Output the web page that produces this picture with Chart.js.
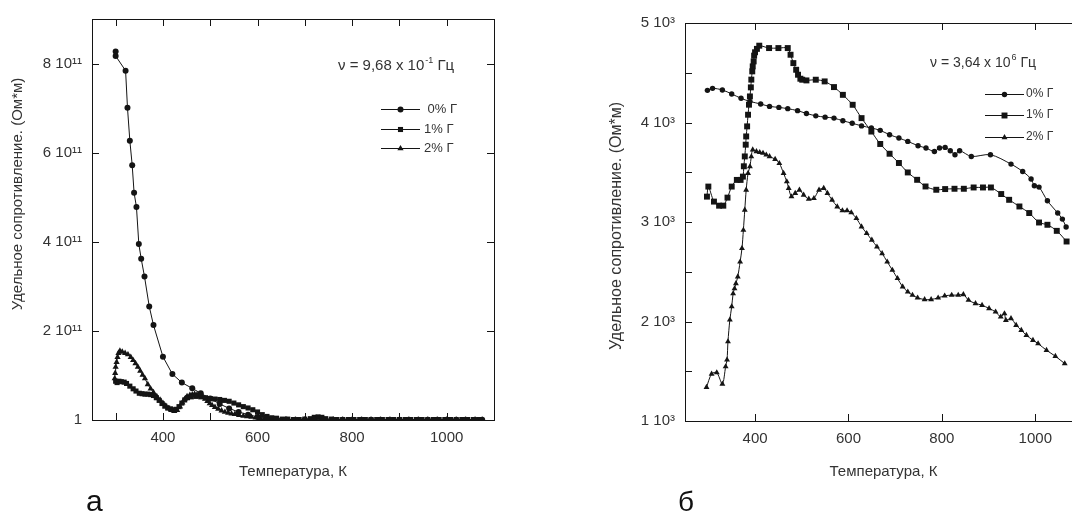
<!DOCTYPE html>
<html lang="ru">
<head>
<meta charset="utf-8">
<title>Удельное сопротивление</title>
<script src="https://cdn.jsdelivr.net/npm/chart.js@4.4.1/dist/chart.umd.min.js"></script>
<style>
  html, body { margin: 0; padding: 0; background: #fff; overflow: hidden; }
  body { width: 1072px; height: 514px; position: relative; }
  canvas { position: absolute; top: 0; }
  #chartA { left: 0; }
  #chartB { left: 536px; }
</style>
</head>
<body>
<canvas id="chartA" width="536" height="514"></canvas>
<canvas id="chartB" width="560" height="514"></canvas>
<script>
'use strict';

// ---------- panel а : v = 9,68 x 10^-1 Гц, resistivity in units of 10^11 Ом*м ----------
const tempA0 = [300, 300, 321, 325, 330, 335, 339, 344, 349, 354,
                361, 371, 380, 400, 420, 440, 462,
                480, 500, 520, 540, 560, 580, 600, 620, 640, 660,
                680, 700, 720, 740, 760, 780, 800, 820, 840, 860,
                880, 900, 920, 940, 960, 980, 1000, 1020, 1040, 1060, 1075];
const rhoA0 = [8.27, 8.17, 7.84, 7.01, 6.27, 5.72, 5.10, 4.78, 3.95, 3.62,
               3.22, 2.55, 2.13, 1.42, 1.03, 0.84, 0.71,
               0.60, 0.48, 0.36, 0.26, 0.18, 0.12, 0.07, 0.04, 0.02, 0.01,
               0.005, 0.005, 0.005, 0.005, 0.005, 0.005, 0.005, 0.005, 0.005, 0.005,
               0.005, 0.005, 0.005, 0.005, 0.005, 0.005, 0.005, 0.005, 0.005, 0.005, 0.005];

const tempA1 = [300, 303, 307, 312, 318, 323, 330, 337, 343, 350,
                356, 362, 368, 374, 380, 386, 392, 398, 404, 410,
                416, 422, 428, 434, 440, 446, 452, 460, 470, 480,
                490, 500, 510, 520, 530, 540, 550, 560, 570, 580,
                590, 600, 610, 620, 630, 640, 652, 664, 676, 688,
                700, 712, 720, 728, 736, 744, 756, 768, 780, 792,
                804, 816, 828, 840, 852, 864, 876, 888, 900, 912,
                924, 936, 948, 960, 972, 984, 996, 1008, 1020, 1032,
                1044, 1056, 1068];
const rhoA1 = [0.87, 0.84, 0.87, 0.86, 0.85, 0.82, 0.76, 0.70, 0.65, 0.60,
               0.59, 0.58, 0.58, 0.57, 0.55, 0.50, 0.44, 0.37, 0.31, 0.27,
               0.25, 0.23, 0.24, 0.30, 0.38, 0.45, 0.50, 0.52, 0.53, 0.52,
               0.50, 0.48, 0.47, 0.46, 0.44, 0.42, 0.38, 0.34, 0.30, 0.27,
               0.23, 0.18, 0.12, 0.08, 0.05, 0.04, 0.02, 0.02, 0.01, 0.01,
               0.02, 0.03, 0.06, 0.07, 0.06, 0.03, 0.02, 0.01, 0.01, 0.01,
               0.01, 0.01, 0.01, 0.01, 0.01, 0.01, 0.01, 0.01, 0.01, 0.01,
               0.01, 0.01, 0.01, 0.01, 0.01, 0.01, 0.01, 0.01, 0.01, 0.01,
               0.01, 0.01, 0.01];

const tempA2 = [298, 299, 300, 302, 304, 306, 309, 314, 320, 326,
                332, 337, 342, 347, 352, 357, 362, 368, 374, 380,
                387, 394, 400, 406, 412, 418, 424, 430, 436, 441,
                446, 451, 457, 462, 467, 472, 478, 484, 489, 494,
                499, 504, 510, 517, 524, 531, 538, 545, 552, 561,
                570, 578, 587, 596, 605, 614, 623, 640, 660, 680,
                700, 720, 740, 760, 780, 800, 820, 840, 860, 880,
                900, 920, 940, 960, 980, 1000, 1020, 1040, 1060, 1075];
const rhoA2 = [0.93, 1.05, 1.19, 1.30, 1.41, 1.50, 1.55, 1.53, 1.50, 1.47,
               1.41, 1.34, 1.27, 1.19, 1.10, 1.01, 0.93, 0.80, 0.70, 0.62,
               0.53, 0.45, 0.38, 0.32, 0.26, 0.22, 0.20, 0.22, 0.30, 0.39,
               0.47, 0.53, 0.56, 0.57, 0.58, 0.57, 0.54, 0.51, 0.47, 0.42,
               0.37, 0.33, 0.29, 0.25, 0.21, 0.18, 0.16, 0.14, 0.13, 0.11,
               0.09, 0.08, 0.07, 0.05, 0.04, 0.02, 0.01, 0.005, 0.005, 0.005,
               0.005, 0.005, 0.005, 0.005, 0.005, 0.005, 0.005, 0.005, 0.005, 0.005,
               0.005, 0.005, 0.005, 0.005, 0.005, 0.005, 0.005, 0.005, 0.005, 0.005];

const labelsA = [' 0% Г', '1% Г', '2% Г'];
const xTicksA = [300, 400, 500, 600, 700, 800, 900, 1000];
const xLabelsA = ['', '400', '', '600', '', '800', '', '1000'];
const yTicksA = [0, 2, 4, 6, 8];
const yLabelsA = ['1', '2 10¹¹', '4 10¹¹', '6 10¹¹', '8 10¹¹'];

// ---------- panel б : v = 3,64 x 10^6 Гц, resistivity in Ом*м ----------
const tempB0 = [298, 309, 330, 350, 370, 389, 412, 431, 451, 470,
                491, 510, 530, 550, 569, 588, 608, 628, 649, 668,
                688, 708, 727, 749, 766, 784, 795, 807, 818, 828,
                838, 863, 904, 948, 973, 991, 998, 1008, 1026, 1048,
                1058, 1066];
const rhoB0 = [4323, 4343, 4327, 4287, 4243, 4212, 4186, 4162, 4152, 4139,
               4119, 4091, 4067, 4054, 4044, 4017, 3993, 3966, 3945, 3921,
               3877, 3844, 3810, 3767, 3743, 3709, 3743, 3750, 3716, 3676,
               3716, 3659, 3676, 3582, 3508, 3432, 3364, 3351, 3213, 3090,
               3029, 2950];

const tempB1 = [297, 300, 312, 323, 332, 341, 350, 361, 369, 374,
                376, 378, 380, 381, 383, 385, 387, 389, 391, 392,
                394, 395, 397, 398, 400, 404, 409, 430, 450, 470,
                476, 482, 488, 492, 497, 501, 510, 530, 549, 569,
                588, 609, 628, 649, 668, 688, 708, 727, 747, 765,
                788, 807, 827, 847, 868, 888, 905, 927, 944, 966,
                987, 1008, 1026, 1046, 1067];
const rhoB1 = [3255, 3356, 3205, 3164, 3164, 3245, 3356, 3423, 3423, 3456,
               3560, 3659, 3777, 3860, 3961, 4078, 4179, 4262, 4353, 4431,
               4514, 4564, 4614, 4672, 4706, 4740, 4772, 4748, 4748, 4748,
               4681, 4597, 4530, 4480, 4440, 4430, 4423, 4430, 4413, 4356,
               4278, 4178, 4044, 3909, 3784, 3686, 3593, 3498, 3424, 3357,
               3324, 3331, 3334, 3334, 3347, 3347, 3347, 3281, 3223, 3156,
               3090, 2995, 2972, 2911, 2804];

const tempB2 = [296, 307, 318, 330, 337, 340, 342, 346, 350, 353,
                356, 359, 363, 368, 372, 375, 378, 381, 385, 389,
                392, 395, 403, 410, 417, 424, 431, 443, 452, 461,
                468, 472, 478, 486, 495, 504, 515, 526, 537, 547,
                555, 565, 576, 587, 597, 606, 617, 628, 639, 650,
                661, 672, 683, 694, 705, 716, 727, 737, 748, 763,
                777, 792, 806, 821, 835, 846, 857, 872, 886, 901,
                915, 926, 934, 937, 948, 959, 970, 981, 995, 1006,
                1024, 1043, 1063];
const rhoB2 = [1339, 1473, 1486, 1372, 1546, 1614, 1798, 2016, 2150, 2280,
               2330, 2382, 2450, 2600, 2735, 2919, 3121, 3322, 3490, 3557,
               3658, 3726, 3709, 3700, 3693, 3675, 3659, 3631, 3590, 3490,
               3406, 3339, 3255, 3289, 3322, 3272, 3231, 3238, 3322, 3339,
               3289, 3221, 3154, 3114, 3114, 3094, 3037, 2953, 2886, 2819,
               2751, 2684, 2600, 2517, 2433, 2349, 2298, 2265, 2238, 2221,
               2221, 2238, 2258, 2265, 2265, 2272, 2215, 2181, 2164, 2131,
               2097, 2047, 2080, 2013, 2030, 1963, 1912, 1862, 1812, 1778,
               1711, 1651, 1577];

const labelsB = ['0% Г', '1% Г', '2% Г'];
const xTicksB = [400, 600, 800, 1000];
const xLabelsB = ['400', '600', '800', '1000'];
const yTicksB = [1000, 1500, 2000, 2500, 3000, 3500, 4000, 4500, 5000];
const yLabelsB = ['1 10³', '', '2 10³', '', '3 10³', '', '4 10³', '', '5 10³'];

const yTitleText = 'Удельное сопротивление. (Ом*м)';
const xTitleText = 'Температура, К';

const INK = '#141414';
const TEXT = '#333333';
const FONT = '"Liberation Sans", Arial, Helvetica, sans-serif';

// frame with inward ticks on all four sides, plus the in-plot texts
const decorPlugin = {
  id: 'decor',
  beforeDatasetsDraw(chart, args, o) {
    const {ctx, chartArea: a, scales: {x, y}} = chart;
    ctx.save();
    ctx.strokeStyle = INK;
    ctx.lineWidth = 1;
    ctx.strokeRect(a.left + 0.5, a.top + 0.5, a.right - a.left, a.bottom - a.top);
    ctx.beginPath();
    x.ticks.forEach(t => {
      const px = Math.round(x.getPixelForValue(t.value)) + 0.5;
      ctx.moveTo(px, a.bottom); ctx.lineTo(px, a.bottom - o.tickLen);
      ctx.moveTo(px, a.top); ctx.lineTo(px, a.top + o.tickLen);
    });
    y.ticks.forEach(t => {
      const py = Math.round(y.getPixelForValue(t.value)) + 0.5;
      ctx.moveTo(a.left, py); ctx.lineTo(a.left + o.tickLen, py);
      ctx.moveTo(a.right, py); ctx.lineTo(a.right - o.tickLen, py);
    });
    ctx.stroke();
    ctx.restore();
  },
  afterDraw(chart, args, o) {
    const ctx = chart.ctx;
    ctx.save();
    ctx.fillStyle = TEXT;

    // y axis title, rotated
    ctx.save();
    ctx.translate(o.yTitle.x, o.yTitle.y);
    ctx.rotate(-Math.PI / 2);
    ctx.font = o.yTitle.size + 'px ' + FONT;
    ctx.textAlign = 'center';
    ctx.textBaseline = 'middle';
    ctx.fillText(yTitleText, 0, 0);
    ctx.restore();

    // frequency note with superscript power
    const n = o.note;
    ctx.textAlign = 'left';
    ctx.textBaseline = 'middle';
    ctx.font = n.size + 'px ' + FONT;
    let cx = n.x;
    ctx.fillText(n.base, cx, n.y);
    cx += ctx.measureText(n.base).width + 1;
    ctx.font = Math.round(n.size * 0.62) + 'px ' + FONT;
    ctx.fillText(n.sup, cx, n.y - n.size * 0.38);
    cx += ctx.measureText(n.sup).width;
    ctx.font = n.size + 'px ' + FONT;
    ctx.fillText(n.tail, cx, n.y);

    // legend inside the plot
    const L = o.legend;
    ctx.font = L.size + 'px ' + FONT;
    chart.data.datasets.forEach((ds, i) => {
      const ly = L.rows[i];
      ctx.strokeStyle = INK;
      ctx.lineWidth = 1;
      ctx.beginPath();
      ctx.moveTo(L.x1, ly + 0.5);
      ctx.lineTo(L.x2, ly + 0.5);
      ctx.stroke();
      ctx.fillStyle = INK;
      Chart.helpers.drawPoint(ctx, {pointStyle: ds.pointStyle, radius: ds.pointRadius, rotation: 0, borderWidth: 0},
        (L.x1 + L.x2) / 2, ly + 0.5);
      ctx.fillStyle = TEXT;
      ctx.fillText(ds.label, L.textX, ly);
    });

    // panel letter
    ctx.fillStyle = '#111';
    ctx.textBaseline = 'alphabetic';
    ctx.font = o.letter.size + 'px ' + FONT;
    ctx.fillText(o.letter.text, o.letter.x, o.letter.y);
    ctx.restore();
  }
};

function makeChart(id, cfg) {
  const datasets = cfg.series.map(s => ({
    label: s.label,
    data: s.temps.map((t, j) => ({x: t, y: s.values[j]})),
    showLine: true,
    borderColor: INK,
    borderWidth: 1,
    backgroundColor: INK,
    pointStyle: s.style,
    pointRadius: s.radius,
    pointBorderWidth: 0,
    pointBackgroundColor: INK,
    tension: cfg.tension
  }));

  return new Chart(document.getElementById(id), {
    type: 'scatter',
    data: {datasets: datasets},
    options: {
      responsive: false,
      animation: false,
      events: [],
      layout: {padding: cfg.padding},
      plugins: {
        legend: {display: false},
        tooltip: {enabled: false},
        decor: cfg.decor
      },
      scales: {
        x: {
          type: 'linear',
          min: cfg.xMin,
          max: cfg.xMax,
          grid: {display: false, drawTicks: false},
          border: {display: false},
          afterBuildTicks: sc => { sc.ticks = cfg.xTicks.map(v => ({value: v})); },
          afterFit: sc => { sc.height = cfg.xAxisHeight; },
          ticks: {
            autoSkip: false, maxRotation: 0, padding: 9, color: TEXT,
            font: {family: FONT, size: 15},
            callback: (v, i) => cfg.xLabels[i]
          },
          title: {
            display: true, text: xTitleText, color: TEXT,
            font: {family: FONT, size: 15},
            padding: {top: 0, bottom: 33}
          }
        },
        y: {
          type: 'linear',
          min: cfg.yMin,
          max: cfg.yMax,
          grid: {display: false, drawTicks: false},
          border: {display: false},
          afterBuildTicks: sc => { sc.ticks = cfg.yTicks.map(v => ({value: v})); },
          afterFit: sc => { sc.width = cfg.yAxisWidth; },
          ticks: {
            autoSkip: false, padding: 10, color: TEXT,
            font: {family: FONT, size: 15},
            callback: (v, i) => cfg.yLabels[i]
          }
        }
      }
    },
    plugins: [decorPlugin]
  });
}

makeChart('chartA', {
  series: [
    {label: labelsA[0], temps: tempA0, values: rhoA0, style: 'circle', radius: 3},
    {label: labelsA[1], temps: tempA1, values: rhoA1, style: 'rect', radius: 3.6},
    {label: labelsA[2], temps: tempA2, values: rhoA2, style: 'triangle', radius: 3.6}
  ],
  tension: 0,
  padding: {left: 0, top: 17, right: 42, bottom: 0},
  xAxisHeight: 94, yAxisWidth: 92,
  xMin: 250, xMax: 1100, yMin: 0, yMax: 9,
  xTicks: xTicksA, xLabels: xLabelsA, yTicks: yTicksA, yLabels: yLabelsA,
  decor: {
    tickLen: 7,
    yTitle: {x: 18, y: 194, size: 15},
    note: {x: 338, y: 66, size: 15, base: 'ν = 9,68 x 10', sup: '-1', tail: ' Гц'},
    legend: {x1: 381, x2: 420, textX: 424, rows: [109, 129, 148], size: 13},
    letter: {x: 86, y: 511, size: 30, text: 'а'}
  }
});

makeChart('chartB', {
  series: [
    {label: labelsB[0], temps: tempB0, values: rhoB0, style: 'circle', radius: 2.7},
    {label: labelsB[1], temps: tempB1, values: rhoB1, style: 'rect', radius: 4.2},
    {label: labelsB[2], temps: tempB2, values: rhoB2, style: 'triangle', radius: 3.4}
  ],
  tension: 0.3,
  padding: {left: 0, top: 23, right: 14, bottom: 0},
  xAxisHeight: 93, yAxisWidth: 149,
  xMin: 250, xMax: 1100, yMin: 1000, yMax: 5000,
  xTicks: xTicksB, xLabels: xLabelsB, yTicks: yTicksB, yLabels: yLabelsB,
  decor: {
    tickLen: 7,
    yTitle: {x: 81, y: 226, size: 16},
    note: {x: 394, y: 63, size: 14, base: 'ν = 3,64 x 10', sup: '6', tail: ' Гц'},
    legend: {x1: 449, x2: 488, textX: 490, rows: [94, 115, 137], size: 12},
    letter: {x: 142, y: 511, size: 28, text: 'б'}
  }
});
</script>
</body>
</html>
